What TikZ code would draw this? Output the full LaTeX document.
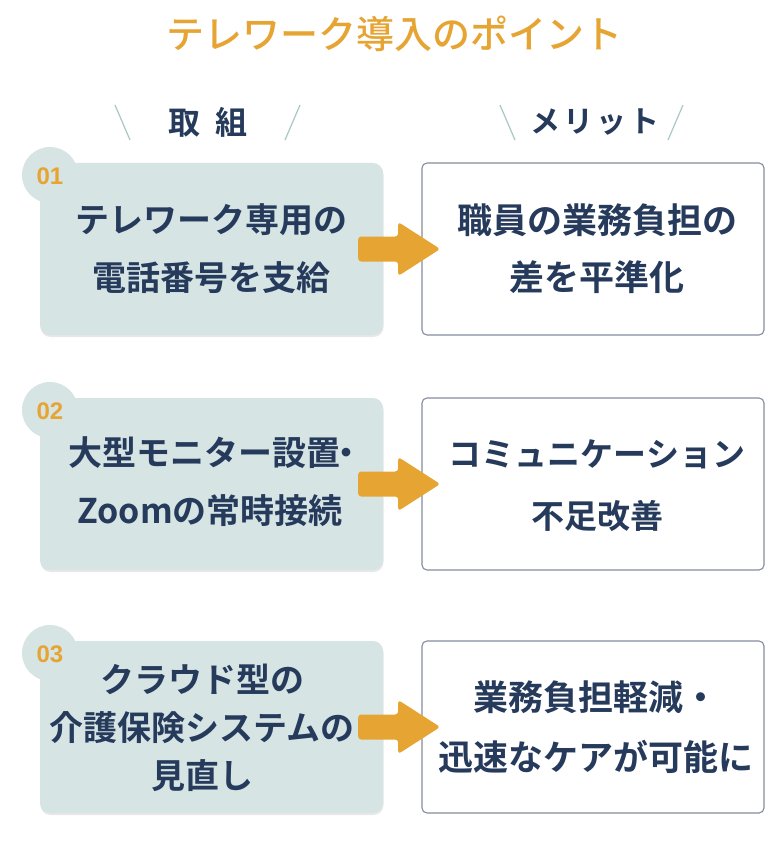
\documentclass[tikz,border=0pt]{standalone}
\usepackage{fontspec}
\newfontfamily\jpb{Noto Sans CJK JP Bold}
\newfontfamily\jpm{Noto Sans CJK JP Medium}
\newfontfamily\numf{Liberation Sans}
\usetikzlibrary{calc}
\definecolor{navy}{HTML}{263A5B}
\definecolor{gold}{HTML}{E6A433}
\definecolor{boxfill}{HTML}{D6E4E4}
\definecolor{rborder}{HTML}{858C9E}
\definecolor{slashc}{HTML}{A8C8C8}
\begin{document}
\begin{tikzpicture}[x=1pt,y=-1pt,
  leftbox/.style={rectangle, rounded corners=10pt, fill=boxfill, minimum width=343pt, minimum height=172pt, inner sep=0pt},
  shadowbox/.style={rectangle, rounded corners=10pt, fill=black!9, minimum width=343pt, minimum height=172pt, inner sep=0pt},
  rightbox/.style={rectangle, rounded corners=5pt, draw=rborder, line width=1.1pt, fill=white, minimum width=342pt, minimum height=172pt, inner sep=0pt},
  badge/.style={circle, fill=boxfill, minimum size=56pt, inner sep=0pt},
  numtxt/.style={font=\numf\bfseries\fontsize{24}{24}\selectfont, text=gold, inner sep=0pt},
  ltxt/.style={font=\jpb\fontsize{34}{58}\selectfont, text=navy, align=center, inner sep=0pt},
  rtxt/.style={font=\jpb\fontsize{35}{58}\selectfont, text=navy, align=center, inner sep=0pt},
  headtxt/.style={font=\jpb\fontsize{32}{32}\selectfont, text=navy, inner sep=0pt},
  titletxt/.style={font=\jpm\fontsize{38}{38}\selectfont, text=gold, inner sep=0pt},
  slashline/.style={draw=slashc, line width=1.2pt},
  arrowfill/.style={fill=gold, rounded corners=3pt}
]
\useasboundingbox (0,0) rectangle (783,845);
\fill[white] (0,0) rectangle (783,845);

% title and headers
\node[titletxt] (title) at (394,34) {テレワーク導入のポイント};
\node[headtxt] (hleft) at (208,122) {取\hspace{15pt}組};
\node[headtxt, font=\jpb\fontsize{30}{30}\selectfont] (hright) at (595,122) {メ\hspace{3pt}リ\hspace{3pt}ッ\hspace{3pt}ト};
\draw[slashline] (115,105) -- (130,140);
\draw[slashline] (300,105) -- (285,140);
\draw[slashline] (500,105) -- (515,140);
\draw[slashline] (683,105) -- (668,140);

% rows
\foreach \i/\y in {1/249, 2/484, 3/727}{
  \node[shadowbox] (S\i) at (212,\y+2) {};
  \node[leftbox] (L\i) at (211.5,\y) {};
  \node[badge] (B\i) at (50,\y-74) {};
  \node[rightbox] (R\i) at (593,\y) {};
}
\node[numtxt] (N1) at (50,176) {01};
\node[numtxt] (N2) at (50,411) {02};
\node[numtxt] (N3) at (50,654) {03};

\node[ltxt] (LT1) at (211,249) {テレワーク専用の\\電話番号を支給};
\node[ltxt] (LT2) at (210,482) {大型モニター設置\kern-11pt・\kern-11pt\\Zoomの常時接続};
\node[ltxt, font=\jpb\fontsize{34}{48}\selectfont] (LT3) at (202,728) {クラウド型の\\介護保険システムの\\見直し};

\node[rtxt, font=\jpb\fontsize{35}{57}\selectfont] (RT1) at (597,249) {職員の業務負担の\\差を平準化};
\node[rtxt, font=\jpb\fontsize{33}{62}\selectfont] (RT2) at (597,486) {コミュニケーション\\不足改善};
\node[rtxt, font=\jpb\fontsize{35}{60}\selectfont] (RT3) at (596,727) {業務負担軽減・\\迅速なケアが可能に};

% arrows
\foreach \i in {1,2,3}{
  \path[arrowfill] ($(L\i.east)+(-25,-12.5)$) -- ($(L\i.east)+(15,-12.5)$) -- ($(L\i.east)+(15,-27)$)
    -- ($(L\i.east)+(57,0)$) -- ($(L\i.east)+(15,27)$) -- ($(L\i.east)+(15,12.5)$)
    -- ($(L\i.east)+(-25,12.5)$) -- cycle;
}
\end{tikzpicture}
\end{document}
